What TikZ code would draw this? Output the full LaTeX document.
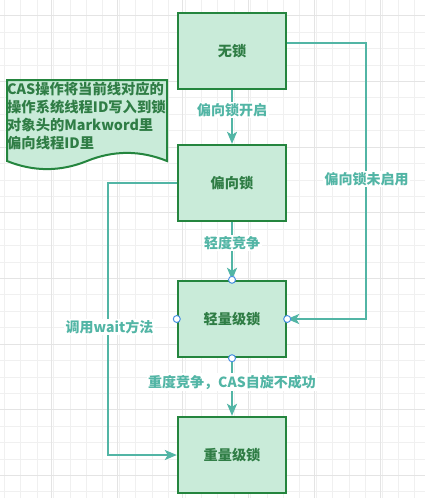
\documentclass[tikz,border=0pt]{standalone}
\usepackage{fontspec}
\setmainfont{Noto Sans CJK SC}
\usetikzlibrary{arrows.meta}
\definecolor{boxfill}{HTML}{C9EBD9}
\definecolor{boxline}{HTML}{24853E}
\definecolor{boxtext}{HTML}{2F7D45}
\definecolor{teal}{HTML}{52B5A5}
\definecolor{gridminor}{HTML}{F0F0F0}
\definecolor{gridmajor}{HTML}{E4E4E4}
\definecolor{handle}{HTML}{4A90E2}
\tikzset{
  lockbox/.style={draw=boxline, line width=2.4pt, fill=boxfill, minimum width=108pt, minimum height=76pt, inner sep=0pt, font=\fontsize{14.2pt}{16pt}\selectfont\bfseries, text=boxtext},
  conn/.style={draw=teal, line width=2pt, -{Stealth[length=12pt,width=10pt,inset=3pt]}},
  lbl/.style={fill=white, inner sep=1.5pt, text=teal, font=\fontsize{14pt}{16pt}\selectfont\bfseries},
  handledot/.style={circle, draw=handle, fill=white, line width=1pt, minimum size=7pt, inner sep=0pt},
}
\begin{document}
\begin{tikzpicture}[x=1pt,y=-1pt]
\useasboundingbox (0,0) rectangle (425,498);
\fill[white] (0,0) rectangle (425,498);
% grid
\foreach \i in {0,...,25} {
  \pgfmathsetmacro{\gx}{4.3+16.42*\i}
  \draw[gridminor, line width=0.8pt] (\gx,0) -- (\gx,498);
}
\foreach \i in {0,...,30} {
  \pgfmathsetmacro{\gy}{-0.72+16.42*\i}
  \draw[gridminor, line width=0.8pt] (0,\gy) -- (425,\gy);
}
\foreach \i in {0,...,6} {
  \pgfmathsetmacro{\gx}{51.5+65.68*\i}
  \draw[gridmajor, line width=0.8pt] (\gx,0) -- (\gx,498);
}
\foreach \i in {0,...,7} {
  \pgfmathsetmacro{\gy}{15.7+65.68*\i}
  \draw[gridmajor, line width=0.8pt] (0,\gy) -- (425,\gy);
}
% boxes
\node[lockbox] (nolock) at (232,51) {无锁};
\node[lockbox] (biased) at (232,183) {偏向锁};
\node[lockbox] (light) at (232,319) {轻量级锁};
\node[lockbox] (heavy) at (232,455) {重量级锁};
% document shape
\draw[draw=boxline, line width=2pt, fill=boxfill]
  (7,80) -- (167,80) -- (167,161)
  .. controls (140.3,150.2) and (113.7,150.2) .. (87,161)
  .. controls (60.3,171.8) and (33.7,171.8) .. (7,161) -- cycle;
\node[anchor=north west, align=left, inner sep=0pt, text=boxtext,
  font=\fontsize{14.3pt}{17.8pt}\selectfont\bfseries] (note) at (7,82)
  {CAS操作将当前线对应的\\操作系统线程ID写入到锁\\对象头的Markword里\\偏向线程ID里};
% corner coordinates
\coordinate (r1) at (365.7,42.7);
\coordinate (r2) at (365.7,319);
\coordinate (l1) at (108.3,183);
\coordinate (l2) at (108.3,455);
% connectors
\draw[conn] (nolock.south) -- (biased.north);
\draw[conn] (biased.south) -- (light.north);
\draw[conn] (light.south) -- (heavy.north);
\draw[conn] (nolock.east |- r1) -- (r1) -- (r2) -- (light.east);
\draw[conn] (biased.west) -- (l1) -- (l2) -- (heavy.west);
% labels
\node[lbl] (lab1) at (232,110) {偏向锁开启};
\node[lbl] (lab2) at (232,243) {轻度竞争};
\node[lbl] (lab3) at (232,382) {重度竞争，CAS自旋不成功};
\node[lbl] (lab4) at (366.5,179) {偏向锁未启用};
\node[lbl] (lab5) at (109.5,327) {调用wait方法};
% handles
\node[handledot] (h1) at (light.north) {};
\node[handledot] (h2) at (light.west) {};
\node[handledot] (h3) at (light.east) {};
\node[handledot] (h4) at (light.south) {};
\end{tikzpicture}
\end{document}
